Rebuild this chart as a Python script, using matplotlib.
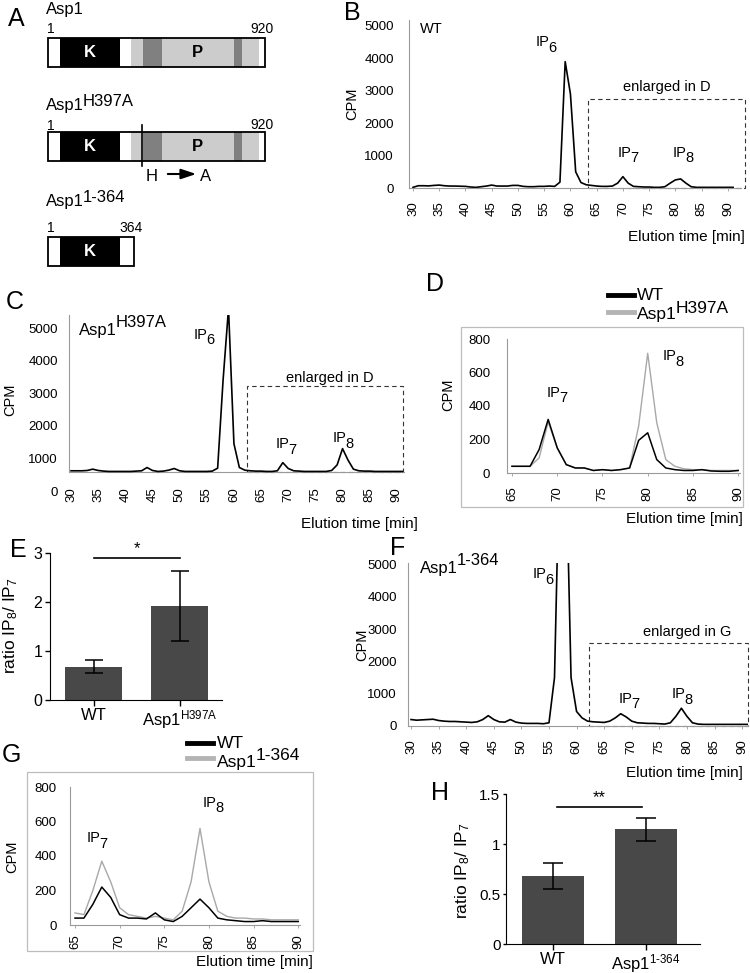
import numpy as np
import matplotlib.pyplot as plt
from matplotlib.patches import Rectangle
from matplotlib.lines import Line2D

plt.rcParams['font.family'] = 'Liberation Sans'
plt.rcParams['mathtext.fontset'] = 'custom'
plt.rcParams['mathtext.rm'] = 'Liberation Sans'
plt.rcParams['mathtext.it'] = 'Liberation Sans:italic'
plt.rcParams['mathtext.bf'] = 'Liberation Sans:bold'

### data
# A: domain boundaries (residues) and shading
asp1_bounds = [0, 52, 306, 353, 402, 483, 787, 821, 893, 920]
asp1_shades = ['w', 'k', 'w', '#cccccc', '#808080', '#cccccc', '#808080', '#cccccc', 'w']
trunc_bounds = [0, 52, 306, 364]
trunc_shades = ['w', 'k', 'w']
mutation_site = 397

# B: WT elution profile
t_b = np.arange(30, 92)
cpm_wt = [20, 70, 70, 65, 80, 90, 70, 60, 60, 55,
          50, 30, 20, 40, 60, 90, 60, 60, 60, 80,
          80, 50, 40, 40, 50, 50, 60, 50, 180, 3900,
          2900, 500, 170, 100, 80, 60, 50, 50, 60, 150,
          350, 150, 50, 40, 30, 30, 20, 20, 40, 150,
          250, 280, 150, 40, 20, 20, 20, 20, 20, 20,
          20, 20]

# C: Asp1 H397A elution profile
t_c = np.arange(30, 92)
cpm_h397a = [620, 620, 620, 630, 670, 630, 610, 600, 600, 600,
             600, 600, 610, 620, 720, 630, 600, 610, 640, 690,
             620, 600, 600, 600, 600, 600, 610, 700, 3400, 5600,
             1450, 720, 640, 620, 610, 610, 600, 600, 620, 870,
             690, 620, 610, 600, 600, 600, 600, 600, 630, 800,
             1300, 950, 670, 620, 610, 610, 600, 600, 600, 600,
             600, 600]

# D: enlarged 65-90 min
t_d = np.arange(65, 91)
cpm_d_wt = [40, 40, 40, 140, 320, 150, 50, 30, 30, 15, 20, 15, 20,
            30, 195, 240, 80, 30, 20, 15, 15, 20, 12, 10, 10, 15]
cpm_d_h397a = [40, 40, 40, 90, 305, 150, 50, 30, 30, 15, 20, 15, 20,
               30, 280, 715, 300, 80, 40, 25, 20, 20, 15, 15, 15, 15]

# E: IP8/IP7 ratios
groups_e = ["WT", r"Asp1$^{\mathregular{H397A}}$"]
ratio_e = [0.68, 1.92]
ratio_e_err = [0.13, 0.71]

# F: Asp1 1-364 elution profile
t_f = np.arange(30, 92)
cpm_1_364 = [200, 180, 190, 200, 210, 170, 150, 140, 140, 130,
             120, 110, 130, 200, 320, 200, 130, 120, 200, 120,
             90, 80, 80, 80, 70, 100, 1500, 9000, 9000, 1500,
             450, 250, 150, 130, 120, 110, 150, 250, 380, 280,
             150, 100, 90, 80, 80, 70, 60, 100, 300, 550,
             300, 100, 60, 50, 50, 50, 50, 50, 50, 50,
             50, 50]

# G: enlarged 65-90 min
t_g = np.arange(65, 91)
cpm_g_wt = [40, 40, 120, 220, 160, 60, 40, 40, 35, 70, 30, 20, 50,
            100, 150, 100, 40, 30, 25, 20, 20, 25, 20, 20, 20, 20]
cpm_g_1_364 = [70, 60, 200, 370, 250, 100, 60, 50, 40, 50, 40, 30, 80,
               250, 560, 250, 80, 50, 40, 40, 35, 35, 30, 30, 30, 30]

# H: IP8/IP7 ratios
groups_h = ["WT", r"Asp1$^{\text{1-364}}$"]
ratio_h = [0.68, 1.15]
ratio_h_err = [0.13, 0.115]

W, H = 750, 973
fig = plt.figure(figsize=(W / 100, H / 100), dpi=100)
renderer = fig.canvas.get_renderer()


def px_axes(x0, y0, x1, y1):
    return fig.add_axes([x0 / W, 1 - y1 / H, (x1 - x0) / W, (y1 - y0) / H])


def put(x, y, s, size=10, **kw):
    return fig.text(x / W, 1 - y / H, s, fontsize=size, **kw)


def put2(x, y, base, extra, shift, size=10, **kw):
    # base text then a full size raised/lowered part
    t = put(x, y, base, size, va='baseline', **kw)
    bb = t.get_window_extent(renderer)
    put(bb.x1 - 1.5, y - shift, extra, size, va='baseline', **kw)


def ip(x, y, n, size=10.5):
    put2(x, y, "IP", n, -5.5, size)


def trace_axes(box, xlim, ylim, xticks, yticks, ypad, xpad=7):
    ax = px_axes(*box)
    ax.set_xlim(*xlim)
    ax.set_ylim(*ylim)
    ax.patch.set_visible(False)
    for s in ("top", "right"):
        ax.spines[s].set_visible(False)
    for s in ("left", "bottom"):
        ax.spines[s].set_color("#9a9a9a")
        ax.spines[s].set_linewidth(0.8)
    ax.set_xticks(list(xticks))
    ax.set_xticklabels([str(v) for v in xticks], rotation=90)
    ax.set_yticks(list(yticks))
    ax.tick_params(axis="x", length=2.5, width=0.6, color="#9a9a9a", pad=xpad, labelsize=9.5)
    ax.tick_params(axis="y", length=0, pad=ypad, labelsize=9.5)
    return ax


def frame(x0, y0, x1, y1):
    fig.add_artist(Rectangle((x0 / W, 1 - y1 / H), (x1 - x0) / W, (y1 - y0) / H,
                             transform=fig.transFigure, fill=False, ec="#bdbdbd", lw=0.9))


def dashed_box(ax, x0, x1, y0, y1):
    ax.add_patch(Rectangle((x0, y0), x1 - x0, y1 - y0, fill=False, ls=(0, (4, 3)),
                           lw=0.8, ec="#333333", clip_on=False))


def legend_line(x0, x1, y, color):
    fig.add_artist(Line2D([x0 / W, x1 / W], [1 - y / H, 1 - y / H], color=color, lw=3.5,
                          transform=fig.transFigure))


###A: domain structure
ax_a = px_axes(0, 0, 300, 290)
ax_a.set_xlim(0, 300)
ax_a.set_ylim(290, 0)
ax_a.axis("off")
bar_left, res_px, bar_h = 48, 217 / 920, 29


def protein_bar(top, bounds, shades):
    x = [bar_left + b * res_px for b in bounds]
    for i, shade in enumerate(shades):
        ax_a.add_patch(Rectangle((x[i], top), x[i + 1] - x[i], bar_h, fc=shade, ec="none"))
    ax_a.add_patch(Rectangle((x[0], top), x[-1] - x[0], bar_h, fill=False, ec="k", lw=1.3))
    ax_a.text((x[1] + x[2]) / 2, top + bar_h / 2, "K", color="w", fontsize=12,
              fontweight="bold", ha="center", va="center")
    if len(bounds) > 4:
        ax_a.text((x[5] + x[6]) / 2, top + bar_h / 2, "P", color="k", fontsize=12,
                  fontweight="bold", ha="center", va="center")
    return x


put(16, 19, "A", 18, ha="center", va="center")
put(46, 14, "Asp1", 12, va="baseline")
put(47, 33, "1", 10, va="baseline")
put(250, 33, "920", 10, va="baseline")
protein_bar(38, asp1_bounds, asp1_shades)

put2(46, 110, "Asp1", "H397A", 4, 12)
put(47, 130, "1", 10, va="baseline")
put(250, 129, "920", 10, va="baseline")
xb = protein_bar(132, asp1_bounds, asp1_shades)
mx = bar_left + mutation_site * res_px
ax_a.plot([mx, mx], [125, 166], color="k", lw=1.2)
put(146, 181, "H", 12, va="baseline")
ax_a.annotate("", xy=(199, 174), xytext=(165, 174),
              arrowprops=dict(arrowstyle="-|>,head_length=0.9,head_width=0.3", color="k", lw=1.5))
put(200, 181, "A", 12, va="baseline")

put2(46, 206, "Asp1", "1-364", 4, 12)
put(47, 232, "1", 10, va="baseline")
protein_bar(237, trunc_bounds, trunc_shades)
put(bar_left + trunc_bounds[-1] * res_px - 14, 232, "364", 10, va="baseline")

###B: WT
ax_b = trace_axes((409, 20, 741, 188), (29.24, 92.5), (0, 5185),
                  range(30, 91, 5), range(0, 5001, 1000), 11)
ax_b.plot(t_b, cpm_wt, color="k", lw=1.2)
dashed_box(ax_b, 63.3, 93.2, 0, 2746)
put(352, 13, "B", 18, ha="center", va="center")
put(352, 104, "CPM", 10.5, rotation=90, ha="center", va="center")
put(420, 33, "WT", 10.5, va="baseline")
ip(536, 46, "6")
ip(618, 157, "7")
ip(673, 157, "8")
put(667, 91, "enlarged in D", 10.5, ha="center", va="baseline")
put(745, 241, "Elution time [min]", 11, ha="right", va="baseline")

###C: Asp1 H397A (x axis crosses at 580 CPM)
c_cross = 580
ax_c = trace_axes((69, 315, 405, 491), (29.63, 91.5), (0, 5400),
                  range(30, 91, 5), range(0, 5001, 1000), 8, xpad=-3)
ax_c.spines["bottom"].set_visible(False)
ax_c.spines["left"].set_bounds(c_cross, 5400)
ax_c.tick_params(axis="x", length=0)
ax_c.axhline(c_cross, color="#9a9a9a", lw=0.8)
ax_c.plot(t_c, cpm_h397a, color="k", lw=1.2)
dashed_box(ax_c, 62.4, 91.1, c_cross, 3220)
put(15, 302, "C", 18, ha="center", va="center")
put(10, 400, "CPM", 10.5, rotation=90, ha="center", va="center")
put2(79, 335, "Asp1", "H397A", 8, 12)
ip(194, 339, "6")
ip(276, 448, "7")
ip(333, 442, "8")
put(330, 382, "enlarged in D", 10.5, ha="center", va="baseline")
put(418, 528, "Elution time [min]", 11, ha="right", va="baseline")

###D: enlarged WT vs H397A
frame(461, 327, 743, 507)
ax_d = trace_axes((507, 339, 740, 473), (64.45, 90.2), (0, 800),
                  range(65, 91, 5), range(0, 801, 200), 12)
ax_d.plot(t_d, cpm_d_h397a, color="#a8a8a8", lw=1.0)
ax_d.plot(t_d, cpm_d_wt, color="k", lw=1.1)
put(435, 284, "D", 18, ha="center", va="center")
legend_line(608, 634, 295, "k")
legend_line(608, 634, 312, "#b4b4b4")
put(637, 300, "WT", 12.5, va="baseline")
put2(637, 319, "Asp1", "H397A", 6, 12.5)
put(448, 395, "CPM", 10.5, rotation=90, ha="center", va="center")
ip(547, 397, "7")
ip(663, 360, "8")
put(743, 523, "Elution time [min]", 11, ha="right", va="baseline")

###E: ratio H397A
ax_e = px_axes(50, 553, 222, 700)
ax_e.bar([0, 1], ratio_e, width=0.66, color="#484848", yerr=ratio_e_err, capsize=6.5,
         error_kw=dict(lw=1.1, capthick=1.1))
ax_e.set_xlim(-0.506, 1.49)
ax_e.set_ylim(0, 3)
ax_e.set_xticks([0, 1])
ax_e.set_xticklabels(groups_e)
ax_e.set_yticks([0, 1, 2, 3])
ax_e.tick_params(axis="x", length=4, width=1, pad=2, labelsize=12)
ax_e.tick_params(axis="y", length=3.5, width=1, pad=2, labelsize=11.5)
for s in ("top", "right"):
    ax_e.spines[s].set_visible(False)
ax_e.plot([0, 1], [2.9, 2.9], color="k", lw=1.2, clip_on=False)
ax_e.text(0.5, 2.93, "*", ha="center", va="bottom", fontsize=12)
put(18, 550, "E", 18, ha="center", va="center")
put(11, 626, r"ratio IP$_{8}$/ IP$_{7}$", 12.5, rotation=90, ha="center", va="center")

###F: Asp1 1-364
ax_f = trace_axes((408, 563, 748, 726), (29.45, 91.07), (0, 5050),
                  range(30, 91, 5), range(0, 5001, 1000), 8)
ax_f.plot(t_f, cpm_1_364, color="k", lw=1.2)
dashed_box(ax_f, 62.3, 91.1, 0, 2570)
put(398, 548, "F", 18, ha="center", va="center")
put(362, 645, "CPM", 10.5, rotation=90, ha="center", va="center")
put2(420, 573, "Asp1", "1-364", 8, 12)
ip(533, 578, "6")
ip(619, 703, "7")
ip(672, 698, "8")
put(687, 636, "enlarged in G", 10.5, ha="center", va="baseline")
put(743, 777, "Elution time [min]", 11, ha="right", va="baseline")

###G: enlarged WT vs 1-364
frame(27, 772, 313, 951)
ax_g = trace_axes((70, 787, 300, 925), (64.44, 90.2), (0, 800),
                  range(65, 91, 5), range(0, 801, 200), 9.5, xpad=4.5)
ax_g.plot(t_g, cpm_g_1_364, color="#a8a8a8", lw=1.0)
ax_g.plot(t_g, cpm_g_wt, color="k", lw=1.1)
put(11, 755, "G", 18, ha="center", va="center")
legend_line(187, 213, 743, "k")
legend_line(187, 213, 758, "#b4b4b4")
put(217, 748, "WT", 12.5, va="baseline")
put2(217, 767, "Asp1", "1-364", 7, 12.5)
put(12, 857, "CPM", 10.5, rotation=90, ha="center", va="center")
ip(87, 842, "7")
ip(203, 807, "8")
put(313, 966, "Elution time [min]", 11, ha="right", va="baseline")

###H: ratio 1-364
ax_h = px_axes(506, 794, 700, 944)
ax_h.bar([0, 1], ratio_h, width=0.667, color="#484848", yerr=ratio_h_err, capsize=7,
         error_kw=dict(lw=1.1, capthick=1.1))
ax_h.set_xlim(-0.505, 1.58)
ax_h.set_ylim(0, 1.5)
ax_h.set_xticks([0, 1])
ax_h.set_xticklabels(groups_h)
ax_h.set_yticks([0, 0.5, 1, 1.5])
ax_h.set_yticklabels(["0", "0.5", "1", "1.5"])
ax_h.tick_params(axis="x", length=4, width=1, pad=1.5, labelsize=12)
ax_h.tick_params(axis="y", length=2, width=1, pad=2, labelsize=11)
for s in ("top", "right"):
    ax_h.spines[s].set_visible(False)
ax_h.plot([0.04, 0.96], [1.37, 1.37], color="k", lw=1.2, clip_on=False)
ax_h.text(0.5, 1.39, "**", ha="center", va="bottom", fontsize=12)
put(440, 793, "H", 18, ha="center", va="center")
put(463, 871, r"ratio IP$_{8}$/ IP$_{7}$", 12.5, rotation=90, ha="center", va="center")

plt.savefig("out.png", dpi=100)
